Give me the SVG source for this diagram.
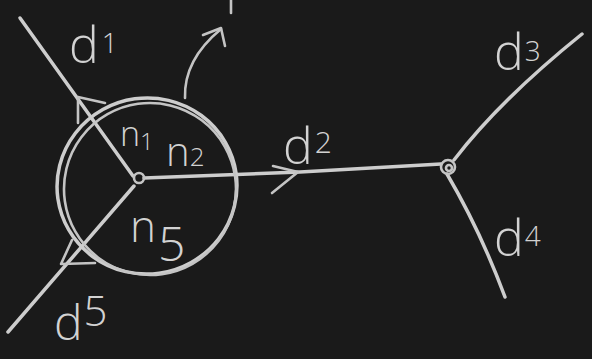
<svg xmlns="http://www.w3.org/2000/svg" width="592" height="359" viewBox="0 0 592 359">
  <defs>
    <style>
      .chalk { fill: none; stroke: #cdcdcd; stroke-width: 3.5; stroke-linecap: round; stroke-linejoin: round; }
      .thin { fill: none; stroke: #c4c4c4; stroke-width: 2.6; stroke-linecap: round; stroke-linejoin: round; }
      .lbl { font-family: "Open Sans", "Liberation Sans", sans-serif; font-weight: 300; fill: #d2d2d2; }
    </style>
  </defs>
  <rect x="0" y="0" width="592" height="359" fill="#1a1a1a"/>

  <g id="connectors">
    <!-- d1 -->
    <path id="edge-d1" class="chalk" d="M20,18 L133,176"/>
    <path class="thin" d="M78,123 L78,97 L105,103"/>
    <!-- d2 -->
    <path id="edge-d2" class="chalk" d="M144,178 L300,172 L441,164"/>
    <path class="thin" d="M273,166 L298,172 L272,193"/>
    <!-- d3 -->
    <path id="edge-d3" class="chalk" d="M454,160 Q500,100 582,34"/>
    <!-- d4 -->
    <path id="edge-d4" class="chalk" d="M447,174 Q480,230 505,297"/>
    <!-- d5 -->
    <path id="edge-d5" class="chalk" d="M8,332 L134,186"/>
    <path class="thin" d="M95,263 L61,264 L72,240"/>
    <!-- outflow arrow from control volume -->
    <path class="thin" d="M185,98 C184,70 198,48 221,29"/>
    <path class="thin" d="M203,35 L221,28 L225,46"/>
    <path class="thin" d="M231,0 L231,13"/>
  </g>

  <g id="control-volume">
    <ellipse class="chalk" cx="147" cy="186" rx="90" ry="88" transform="rotate(-8 147 186)"/>
    <ellipse class="thin" cx="150" cy="189" rx="86" ry="86" transform="rotate(-8 150 189)"/>
  </g>

  <g id="node-1">
    <circle class="thin" cx="139" cy="178" r="5"/>
  </g>
  <g id="node-2">
    <circle class="thin" cx="448" cy="167" r="7"/>
    <circle class="thin" cx="449" cy="168" r="3"/>
  </g>

  <g id="labels">
    <text class="lbl" x="69" y="63" font-size="50">d<tspan font-size="28" dx="3" dy="-10">1</tspan></text>
    <text class="lbl" x="283" y="164" font-size="50">d<tspan font-size="30" dx="2" dy="-11">2</tspan></text>
    <text class="lbl" x="494" y="70" font-size="50">d<tspan font-size="28" dx="1" dy="-9">3</tspan></text>
    <text class="lbl" x="494" y="256" font-size="50">d<tspan font-size="28" dx="1" dy="-10">4</tspan></text>
    <text class="lbl" x="54" y="340" font-size="48">d<tspan font-size="42" dx="1" dy="-14">5</tspan></text>
    <text class="lbl" x="120" y="146" font-size="34">n<tspan font-size="24" dx="0" dy="4">1</tspan></text>
    <text class="lbl" x="166" y="166" font-size="40">n<tspan font-size="26" dx="0" dy="0">2</tspan></text>
    <text class="lbl" x="130" y="242" font-size="44">n<tspan font-size="48" dx="2" dy="19">5</tspan></text>
  </g>
</svg>
